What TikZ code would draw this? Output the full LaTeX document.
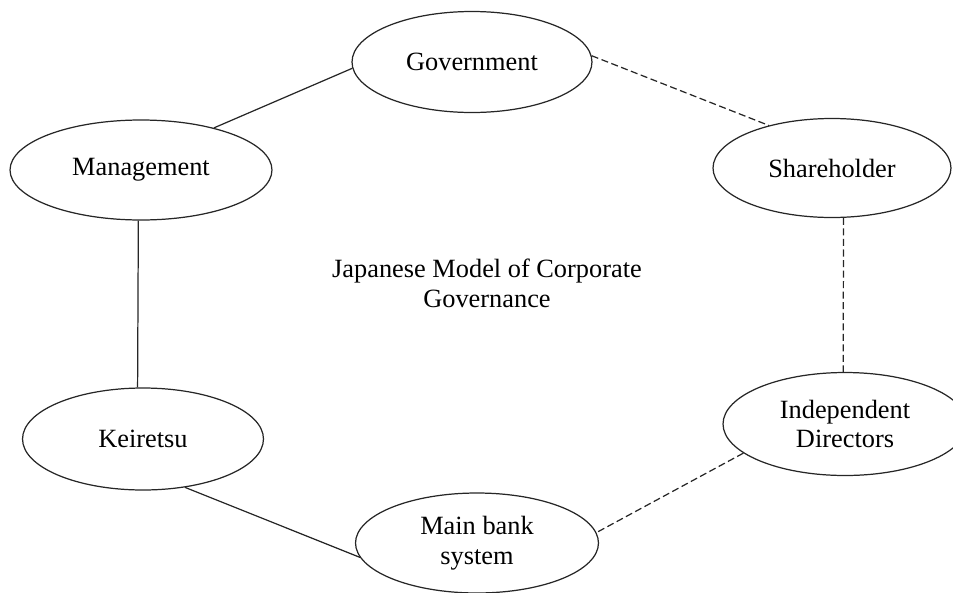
\documentclass[tikz,border=0pt]{standalone}
\usepackage{fontspec}
\setmainfont{Liberation Serif}
\usetikzlibrary{shapes.geometric}
\tikzset{ell/.style={ellipse,draw=black!85,line width=.7pt,inner sep=0pt,align=center,font=\fontsize{15}{17}\selectfont},
	solidcon/.style={draw=black!85,line width=.7pt},
	dashcon/.style={draw=black!85,line width=.7pt,dash pattern=on 4pt off 2pt}}
\begin{document}
\begin{tikzpicture}[x=.02cm,y=-.02cm]
\useasboundingbox (0,0) rectangle (953,592);
\node[ell,minimum width=4.8cm,minimum height=2.02cm] (gov) at (472,62) {Government};
\node[ell,minimum width=5.24cm,minimum height=2cm] (mgmt) at (141,170) {Management};
\node[ell,minimum width=4.76cm,minimum height=1.98cm] (share) at (832,168) {Shareholder};
\node[ell,minimum width=4.82cm,minimum height=2.04cm] (keir) at (143,439) {Keiretsu};
\node[ell,minimum width=4.88cm,minimum height=2.06cm] (indep) at (845,424) {Independent\\Directors};
\node[ell,minimum width=4.86cm,minimum height=2cm] (bank) at (477,543) {Main bank\\system};
\node[align=center,font=\fontsize{15}{17}\selectfont] (title) at (487,283) {Japanese Model of Corporate\\Governance};
\draw[solidcon] (mgmt.30) -- (gov.183);
\draw[dashcon] (gov.3) -- (share.146);
\draw[dashcon] (share.-77) -- (indep.92);
\draw[dashcon] (indep.196) -- (bank.5);
\draw[solidcon] (bank.187) -- (keir.-49);
\draw[solidcon] (keir.96) -- (mgmt.-93);
\end{tikzpicture}
\end{document}
